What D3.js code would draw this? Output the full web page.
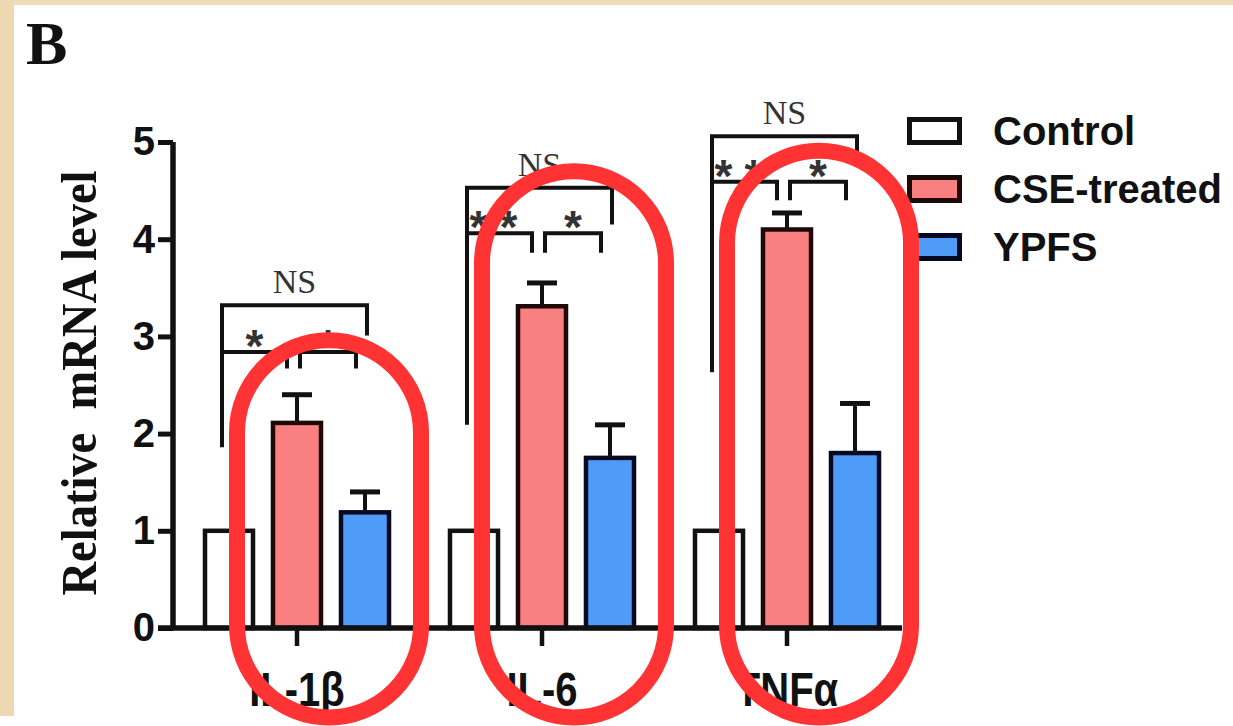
<!DOCTYPE html>
<html><head><meta charset="utf-8">
<script src="https://cdn.jsdelivr.net/npm/d3@7"></script>
<style>body{margin:0;background:#fff}svg{display:block}</style>
</head><body>
<script>
// ---- data ----
const categories = ["IL-1β", "IL-6", "TNFα"];
const seriesNames = ["Control", "CSE-treated", "YPFS"];
const controlValues = [1, 1, 1];
const cseValues = [2.11, 3.31, 4.10];
const cseErrors = [0.29, 0.24, 0.17];
const ypfsValues = [1.19, 1.75, 1.80];
const ypfsErrors = [0.21, 0.34, 0.51];
const yTicks = [0, 1, 2, 3, 4, 5];
// significance annotations (value units)
const nsLevels = [3.32, 4.53, 5.06];
const nsLeftEnds = [1.86, 2.09, 2.63];
const nsRightEnds = [3.01, 4.15, 4.90];
const starLevels = [2.84, 4.06, 4.59];
const starLegEnds = [2.67, 3.86, 4.40];
const starsLeft = ["*", "**", "**"];
const starsRight = ["*", "*", "*"];
const nsLabel = "NS";
// highlight ovals: top of each oval (value units), bottom below axis
const ovalTops = [2.96, 4.70, 4.91];
const ovalBottom = -0.92;

const W = 1233, H = 726;
const svg = d3.select("body").append("svg").attr("width", W).attr("height", H);

// background border (beige strips)
svg.append("rect").attr("x", 0).attr("y", 0).attr("width", W).attr("height", H).attr("fill", "#fff");
svg.append("rect").attr("x", 0).attr("y", 0).attr("width", W).attr("height", 5).attr("fill", "#efdcb9");
svg.append("rect").attr("x", 0).attr("y", 0).attr("width", 14).attr("height", 716).attr("fill", "#eed8b2");

const colors = {"Control": "#ffffff", "CSE-treated": "#f88080", "YPFS": "#4f9cf8"};
const strokes = {"Control": "#111", "CSE-treated": "#1e0808", "YPFS": "#050a22"};

const x0 = d3.scaleBand().domain(categories).range([174.5, 909.5]).padding(0);
const x1 = d3.scaleBand().domain(seriesNames)
  .range([x0.bandwidth() / 2 - 102, x0.bandwidth() / 2 + 102])
  .paddingInner(0.294).paddingOuter(0.147);
const y = d3.scaleLinear().domain([0, 5]).range([628, 142]);
const cx = (c, s) => x0(c) + x1(s) + x1.bandwidth() / 2;

const rows = categories.map((c, i) => ({
  cat: c,
  vals: [
    {s: "Control", v: controlValues[i], e: 0},
    {s: "CSE-treated", v: cseValues[i], e: cseErrors[i]},
    {s: "YPFS", v: ypfsValues[i], e: ypfsErrors[i]}
  ]
}));

// Y-axis label
svg.append("text")
  .attr("transform", `translate(96,383) rotate(-90)`)
  .attr("text-anchor", "middle")
  .attr("font-family", "Liberation Serif, serif").attr("font-weight", "bold")
  .attr("font-size", 50).attr("fill", "#111")
  .attr("textLength", 425).attr("lengthAdjust", "spacingAndGlyphs")
  .style("white-space", "pre")
  .text("Relative  mRNA level");

// "B" panel label
svg.append("text").attr("x", 26).attr("y", 64)
  .attr("font-family", "Liberation Serif, serif").attr("font-weight", "bold")
  .attr("font-size", 62).attr("fill", "#111").text("B");

// bars
const g = svg.append("g");
const grp = g.selectAll("g.grp").data(rows).join("g").attr("class", "grp");
grp.selectAll("rect").data(d => d.vals.map(v => ({...v, cat: d.cat}))).join("rect")
  .attr("x", d => cx(d.cat, d.s) - x1.bandwidth() / 2)
  .attr("y", d => y(d.v))
  .attr("width", x1.bandwidth())
  .attr("height", d => y(0) - y(d.v))
  .attr("fill", d => colors[d.s])
  .attr("stroke", d => strokes[d.s])
  .attr("stroke-width", 4.5);

// error bars (upper only)
const eb = grp.selectAll("g.eb").data(d => d.vals.filter(v => v.e > 0).map(v => ({...v, cat: d.cat})))
  .join("g").attr("class", "eb");
eb.append("line")
  .attr("x1", d => cx(d.cat, d.s)).attr("x2", d => cx(d.cat, d.s))
  .attr("y1", d => y(d.v)).attr("y2", d => y(d.v + d.e))
  .attr("stroke", "#111").attr("stroke-width", 4);
eb.append("line")
  .attr("x1", d => cx(d.cat, d.s) - 15).attr("x2", d => cx(d.cat, d.s) + 15)
  .attr("y1", d => y(d.v + d.e)).attr("y2", d => y(d.v + d.e))
  .attr("stroke", "#111").attr("stroke-width", 5);

// Y axis
const yAxis = svg.append("g").attr("transform", "translate(173,0)")
  .call(d3.axisLeft(y).tickValues(yTicks).tickSize(15).tickSizeOuter(0).tickPadding(3).tickFormat(d3.format("d")));
yAxis.select(".domain").attr("stroke", "#111").attr("stroke-width", 5.5).attr("d", `M0,${y(5)}V${y(0) + 2}`);
yAxis.selectAll(".tick line").attr("stroke", "#111").attr("stroke-width", 5);
yAxis.selectAll(".tick text").attr("font-family", "Liberation Sans, Arial, sans-serif")
  .attr("font-weight", "bold").attr("font-size", 40).attr("fill", "#111");

// X axis
const xAxis = svg.append("g").attr("transform", `translate(0,${y(0)})`)
  .call(d3.axisBottom(x0).tickSize(18).tickSizeOuter(0).tickFormat(""));
xAxis.select(".domain").attr("stroke", "#111").attr("stroke-width", 5.5).attr("d", `M158,0H902`);
xAxis.selectAll(".tick line").attr("stroke", "#111").attr("stroke-width", 4.5);
xAxis.selectAll(".tick").append("text")
  .attr("transform", "translate(0,78) scale(1,1.2)")
  .attr("text-anchor", "middle")
  .attr("font-family", "Liberation Sans, Arial, sans-serif").attr("font-weight", "bold")
  .attr("font-size", 40).attr("fill", "#111")
  .text(d => d);

// significance brackets
categories.forEach((c, i) => {
  const cC = cx(c, "Control"), cT = cx(c, "CSE-treated"), cY = cx(c, "YPFS");
  const leftX = cC - 7, b1R = cT - 10, b2L = cT + 3, b2R = cY - 9, nsR = cY + 2;
  const p = d3.path();
  p.moveTo(leftX, y(nsLeftEnds[i])); p.lineTo(leftX, y(nsLevels[i])); p.lineTo(nsR, y(nsLevels[i])); p.lineTo(nsR, y(nsRightEnds[i]));
  p.moveTo(leftX, y(starLevels[i])); p.lineTo(b1R, y(starLevels[i])); p.lineTo(b1R, y(starLegEnds[i]));
  p.moveTo(b2L, y(starLegEnds[i])); p.lineTo(b2L, y(starLevels[i])); p.lineTo(b2R, y(starLevels[i])); p.lineTo(b2R, y(starLegEnds[i]));
  svg.append("path").attr("d", p.toString()).attr("fill", "none").attr("stroke", "#111").attr("stroke-width", 4);
  svg.append("text").attr("x", (leftX + nsR) / 2).attr("y", y(nsLevels[i]) - 12)
    .attr("text-anchor", "middle").attr("font-family", "Liberation Serif, serif")
    .attr("font-size", 34).attr("fill", "#333").text(nsLabel);
  [[starsLeft[i], (leftX + b1R) / 2], [starsRight[i], (b2L + b2R) / 2]].forEach(([s, xx]) => {
    svg.append("text").attr("x", xx).attr("y", y(starLevels[i]) + 10)
      .attr("text-anchor", "middle").attr("font-family", "Liberation Sans, Arial, sans-serif")
      .attr("font-weight", "bold").attr("font-size", 46).attr("letter-spacing", s.length > 1 ? 12 : 0)
      .attr("fill", "#333").text(s);
  });
});

// legend
const lg = svg.append("g");
seriesNames.forEach((s, i) => {
  const top = 117 + i * 58;
  lg.append("rect").attr("x", 909.5).attr("y", top + 2.5).attr("width", 50).attr("height", 23)
    .attr("fill", colors[s]).attr("stroke", strokes[s]).attr("stroke-width", 5);
  lg.append("text").attr("x", 993).attr("y", top + 28)
    .attr("font-family", "Liberation Sans, Arial, sans-serif").attr("font-weight", "bold")
    .attr("font-size", 40).attr("fill", "#111").text(s);
});

// red highlight ovals
categories.forEach((c, i) => {
  const left = cx(c, "CSE-treated") - 60;
  const wOval = 184;
  svg.append("rect").attr("x", left).attr("y", y(ovalTops[i]))
    .attr("width", wOval).attr("height", y(ovalBottom) - y(ovalTops[i]))
    .attr("rx", wOval / 2).attr("ry", wOval / 2)
    .attr("fill", "none").attr("stroke", "#ff3333").attr("stroke-width", 16);
});
</script>
</body></html>
